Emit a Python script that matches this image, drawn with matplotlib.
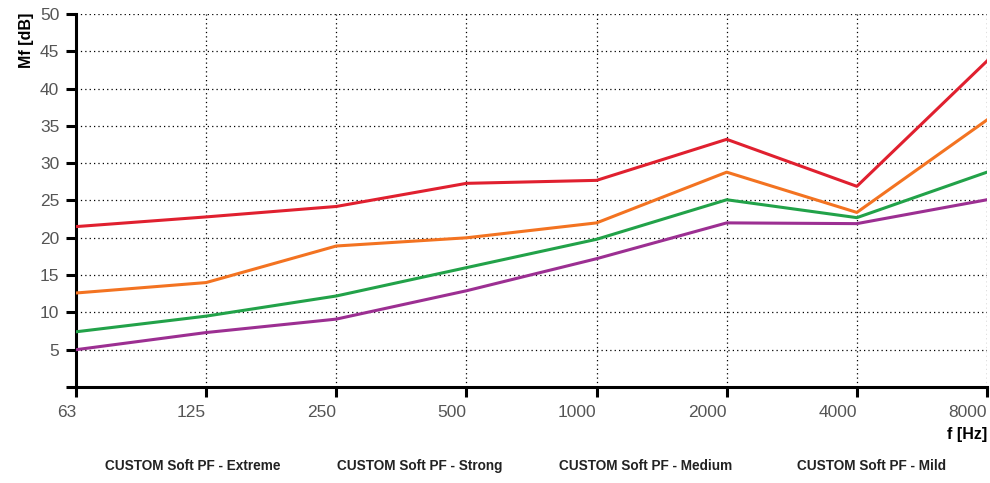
import matplotlib
matplotlib.use("Agg")
import matplotlib.pyplot as plt

freqs = ["63", "125", "250", "500", "1000", "2000", "4000", "8000"]
extreme = [21.5, 22.8, 24.2, 27.3, 27.7, 33.2, 26.9, 43.7]
strong = [12.6, 14.0, 18.9, 20.0, 22.0, 28.8, 23.4, 35.8]
medium = [7.4, 9.5, 12.2, 16.0, 19.8, 25.1, 22.7, 28.8]
mild = [5.0, 7.3, 9.1, 12.9, 17.2, 22.0, 21.9, 25.1]
series_names = ["CUSTOM Soft PF - Extreme", "CUSTOM Soft PF - Strong",
                "CUSTOM Soft PF - Medium", "CUSTOM Soft PF - Mild"]
colors = ["#e0202f", "#f37321", "#22a249", "#9c2f92"]
yticks = [5, 10, 15, 20, 25, 30, 35, 40, 45, 50]

plt.rcParams['font.family'] = ['Liberation Sans', 'DejaVu Sans']

fig = plt.figure(figsize=(9.9, 4.83), dpi=100)
ax = fig.add_axes([76/990, 1-387/483, (987-76)/990, (387-14)/483])
x = list(range(len(freqs)))
for vals, c in zip([extreme, strong, medium, mild], colors):
    ax.plot(x, vals, color=c, lw=2.2, zorder=3)

ax.set_xlim(0, len(freqs)-1)
ax.set_ylim(0, 50)
ax.set_xticks(x)
ax.set_xticklabels(freqs, ha="right")
ax.set_yticks([0] + yticks)
ax.set_yticklabels([""] + [str(v) for v in yticks])
ax.grid(True, color="black", linestyle=(0, (1, 2.5)), linewidth=0.9)
for s in ["top", "right"]:
    ax.spines[s].set_visible(False)
for s in ["left", "bottom"]:
    ax.spines[s].set_linewidth(2.2)
ax.tick_params(axis="both", direction="out", length=7, width=2.2,
               labelsize=12.5, labelcolor="#555555", color="black")
ax.tick_params(axis="x", pad=6)
ax.tick_params(axis="y", pad=5)

fig.text(26/990, 1-40/483, "Mf [dB]", rotation=90, fontsize=11.5,
         fontweight="bold", ha="center", va="center")
fig.text(987/990, 1-435/483, "f [Hz]", fontsize=11.5, fontweight="bold",
         ha="right", va="center")
legx = [105, 337, 559, 797]
for name, lx in zip(series_names, legx):
    fig.text(lx/990, 1-466/483, name, fontsize=9.8, fontweight="bold",
             ha="left", va="center", color="#222222")

fig.savefig("out.png", dpi=100)
